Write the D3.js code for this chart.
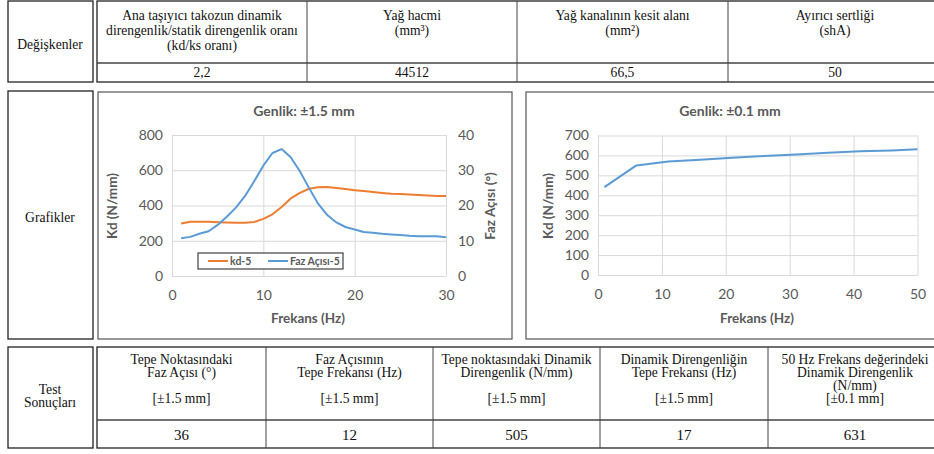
<!DOCTYPE html>
<html>
<head>
<meta charset="utf-8">
<script src="https://cdn.jsdelivr.net/npm/d3@7"></script>
<style>
	body { margin: 0; background: #fff; }
	svg { display: block; }
	.tbl text { font-family: 'Liberation Serif', 'Times New Roman', serif; font-size: 13.6px; fill: #111; }
	.chart text { font-family: Lato, 'Open Sans', sans-serif; fill: #595959; }
</style>
</head>
<body>
<div id="page"></div>
<script>
// --- data ---
const varHeaders = [
	['Ana taşıyıcı takozun dinamik', 'direngenlik/statik direngenlik oranı', '(kd/ks oranı)'],
	['Yağ hacmi', '(mm³)'],
	['Yağ kanalının kesit alanı', '(mm²)'],
	['Ayırıcı sertliği', '(shA)']
]
const varValues = ['2,2', '44512', '66,5', '50']

const resultHeaders = [
	['Tepe Noktasındaki', 'Faz Açısı (°)', '', '[±1.5 mm]'],
	['Faz Açısının', 'Tepe Frekansı (Hz)', '', '[±1.5 mm]'],
	['Tepe noktasındaki Dinamik', 'Direngenlik (N/mm)', '', '[±1.5 mm]'],
	['Dinamik Direngenliğin', 'Tepe Frekansı (Hz)', '', '[±1.5 mm]'],
	['50 Hz Frekans değerindeki', 'Dinamik Direngenlik', '(N/mm)', '[±0.1 mm]']
]
const resultValues = ['36', '12', '505', '17', '631']

const freq15 = [1, 2, 3, 4, 5, 6, 7, 8, 9, 10, 11, 12, 13, 14, 15, 16, 17, 18, 19, 20, 21, 22, 23, 24, 25, 26, 27, 28, 29, 30]
const kd5 = [298, 308, 308, 308, 305, 303, 302, 302, 306, 324, 350, 392, 440, 472, 495, 503, 505, 499, 493, 487, 482, 476, 471, 467, 465, 462, 460, 457, 454, 454]
const faz5 = [10.7, 11.1, 12.0, 12.7, 14.5, 16.8, 19.4, 22.7, 26.9, 31.3, 34.9, 36.0, 33.7, 29.7, 25.0, 20.5, 17.3, 15.2, 13.9, 13.2, 12.5, 12.3, 12.0, 11.8, 11.6, 11.4, 11.3, 11.3, 11.3, 11.0]

const freq01 = [1, 6, 11, 16, 21, 26, 31, 36, 41, 46, 50]
const kd01 = [441, 550, 569, 578, 588, 597, 605, 613, 621, 625, 631]

const kdTicks15 = [0, 200, 400, 600, 800]
const fazTicks15 = [0, 10, 20, 30, 40]
const freqTicks15 = [0, 10, 20, 30]
const kdTicks01 = [0, 100, 200, 300, 400, 500, 600, 700]
const freqTicks01 = [0, 10, 20, 30, 40, 50]

const ORANGE = '#ed7d31'
const BLUE = '#5b9bd5'
const GRID = '#d9d9d9'

const svg = d3.select('#page').append('svg')
	.attr('width', 934)
	.attr('height', 454)
	.attr('viewBox', '0 0 934 454')

svg.append('rect').attr('width', 934).attr('height', 454).attr('fill', '#fff')

const tbl = svg.append('g').attr('class', 'tbl')

// simple boxed cell
function box(x0, y0, x1, y1, stroke = '#222', w = 1.3) {
	tbl.append('rect')
		.attr('x', x0).attr('y', y0)
		.attr('width', x1 - x0).attr('height', y1 - y0)
		.attr('fill', 'none').attr('stroke', stroke).attr('stroke-width', w)
}

function lines(x, y0, step, arr, size) {
	arr.forEach((t, i) => {
		if (!t) return
		tbl.append('text')
			.attr('x', x).attr('y', y0 + i * step)
			.attr('text-anchor', 'middle')
			.attr('dominant-baseline', 'central')
			.style('font-size', size ? size + 'px' : null)
			.text(t)
	})
}

// --- top table (variables) ---
box(8, 1, 93, 82)
lines(50, 44, 0, ['Değişkenler'])
const topCols = [97, 307, 517, 728, 942]
box(97, 1, 942, 82)
tbl.append('line').attr('x1', 97).attr('x2', 942).attr('y1', 63).attr('y2', 63).attr('stroke', '#444').attr('stroke-width', 1.5)
topCols.slice(1, -1).forEach((x) => {
	tbl.append('line').attr('x1', x).attr('x2', x).attr('y1', 1).attr('y2', 82).attr('stroke', '#444')
})
varHeaders.forEach((h, i) => {
	const cx = (topCols[i] + topCols[i + 1]) / 2
	lines(cx, 15, 15, h)
	lines(cx, 72.5, 0, [varValues[i]])
})

// --- middle row (charts) ---
box(8, 91, 93, 339)
lines(50, 217, 0, ['Grafikler'])
box(98, 92, 512, 339, '#555', 1.2)
box(526, 92, 942, 339, '#555', 1.2)

// --- bottom table (results) ---
box(8, 347, 93, 448)
lines(50, 389, 13.5, ['Test', 'Sonuçları'])
const botCols = [97, 266, 433, 600, 768, 942]
box(97, 347, 942, 448)
tbl.append('line').attr('x1', 97).attr('x2', 942).attr('y1', 420).attr('y2', 420).attr('stroke', '#444').attr('stroke-width', 1.5)
botCols.slice(1, -1).forEach((x) => {
	tbl.append('line').attr('x1', x).attr('x2', x).attr('y1', 347).attr('y2', 448).attr('stroke', '#444')
})
resultHeaders.forEach((h, i) => {
	const cx = (botCols[i] + botCols[i + 1]) / 2
	lines(cx, 359, 13.3, h)
	lines(cx, 435, 0, [resultValues[i]], 15)
})

// --- chart helpers ---
function gridAndAxes(g, sx, sy, xTicks, yTicks, w, h) {
	g.append('g')
		.call(d3.axisLeft(sy).tickValues(yTicks).tickSize(-w).tickFormat(''))
		.call((a) => a.select('.domain').remove())
		.selectAll('line').attr('stroke', GRID)
	g.append('g')
		.attr('transform', `translate(0,${h})`)
		.call(d3.axisBottom(sx).tickValues(xTicks).tickSize(-h).tickFormat(''))
		.call((a) => a.select('.domain').remove())
		.selectAll('line').attr('stroke', GRID)

	const yl = g.append('g')
		.call(d3.axisLeft(sy).tickValues(yTicks).tickSize(0).tickPadding(9))
	yl.select('.domain').remove()
	yl.selectAll('text').style('font-size', '14px').attr('fill', '#595959')

	const xl = g.append('g')
		.attr('transform', `translate(0,${h})`)
		.call(d3.axisBottom(sx).tickValues(xTicks).tickSize(0).tickPadding(14))
	xl.select('.domain').remove()
	xl.selectAll('text').style('font-size', '14px').attr('fill', '#595959')
}

function title(g, x, y, t, size, rotate) {
	g.append('text')
		.attr('transform', `translate(${x},${y})${rotate ? ' rotate(-90)' : ''}`)
		.attr('text-anchor', 'middle')
		.attr('dominant-baseline', 'central')
		.style('font-size', size + 'px')
		.style('font-weight', 'bold')
		.text(t)
}

// --- chart 1: ±1.5 mm ---
{
	const m = { left: 172, top: 135, w: 274, h: 141 }
	const c = svg.append('g').attr('class', 'chart')
	const g = c.append('g').attr('transform', `translate(${m.left},${m.top})`)

	const sx = d3.scaleLinear().domain([0, 30]).range([0, m.w])
	const sy = d3.scaleLinear().domain([0, 800]).range([m.h, 0])
	const sy2 = d3.scaleLinear().domain([0, 40]).range([m.h, 0])

	gridAndAxes(g, sx, sy, freqTicks15, kdTicks15, m.w, m.h)

	const yr = g.append('g')
		.attr('transform', `translate(${m.w},0)`)
		.call(d3.axisRight(sy2).tickValues(fazTicks15).tickSize(0).tickPadding(12))
	yr.select('.domain').remove()
	yr.selectAll('text').style('font-size', '14px').attr('fill', '#595959')

	const kdLine = d3.line().x((d, i) => sx(freq15[i])).y((d) => sy(d))
	const fazLine = d3.line().x((d, i) => sx(freq15[i])).y((d) => sy2(d))

	g.append('path').datum(kd5)
		.attr('d', kdLine).attr('fill', 'none')
		.attr('stroke', ORANGE).attr('stroke-width', 2)
		.attr('stroke-linejoin', 'round')
	g.append('path').datum(faz5)
		.attr('d', fazLine).attr('fill', 'none')
		.attr('stroke', BLUE).attr('stroke-width', 2)
		.attr('stroke-linejoin', 'round')

	title(c, 304, 110, 'Genlik: ±1.5 mm', 14)
	title(c, 308, 318, 'Frekans (Hz)', 13.5)
	title(c, 112, 206, 'Kd (N/mm)', 13.5, true)
	title(c, 490, 206, 'Faz Açısı (°)', 13.5, true)

	// legend
	const lg = c.append('g').attr('transform', 'translate(198,253)')
	lg.append('rect').attr('width', 145).attr('height', 16)
		.attr('fill', '#fff').attr('stroke', '#404040').attr('stroke-width', 1.2)
	const items = [['kd-5', ORANGE, 10], ['Faz Açısı-5', BLUE, 70]]
	items.forEach(([name, col, x]) => {
		lg.append('line').attr('x1', x).attr('x2', x + 20).attr('y1', 8).attr('y2', 8)
			.attr('stroke', col).attr('stroke-width', 2)
		lg.append('text').attr('x', x + 22).attr('y', 8)
			.attr('dominant-baseline', 'central')
			.style('font-size', '10.5px').style('font-weight', 'bold')
			.text(name)
	})
}

// --- chart 2: ±0.1 mm ---
{
	const m = { left: 598, top: 135.5, w: 319.5, h: 139.5 }
	const c = svg.append('g').attr('class', 'chart')
	const g = c.append('g').attr('transform', `translate(${m.left},${m.top})`)

	const sx = d3.scaleLinear().domain([0, 50]).range([0, m.w])
	const sy = d3.scaleLinear().domain([0, 700]).range([m.h, 0])

	gridAndAxes(g, sx, sy, freqTicks01, kdTicks01, m.w, m.h)

	const line = d3.line().x((d, i) => sx(freq01[i])).y((d) => sy(d))
	g.append('path').datum(kd01)
		.attr('d', line).attr('fill', 'none')
		.attr('stroke', BLUE).attr('stroke-width', 2)
		.attr('stroke-linejoin', 'round')

	title(c, 730, 110, 'Genlik: ±0.1 mm', 14)
	title(c, 757, 318, 'Frekans (Hz)', 13.5)
	title(c, 548, 206, 'Kd (N/mm)', 13.5, true)
}
</script>
</body>
</html>
